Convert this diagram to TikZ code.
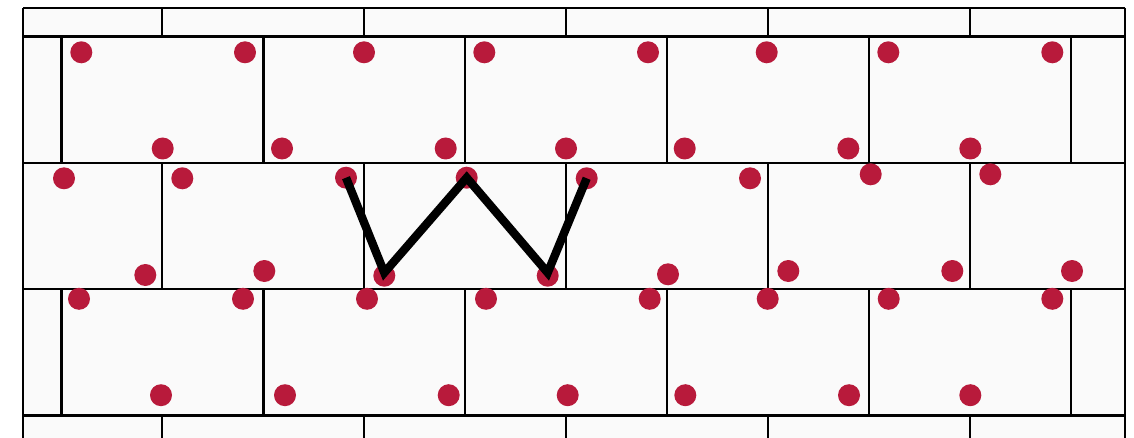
\documentclass[tikz,border=0pt]{standalone}
\usepackage{tikz}
\definecolor{brickred}{HTML}{B81A3B}
\definecolor{mortar}{HTML}{FAFAFA}

\begin{document}
\begin{tikzpicture}[
  x=0.5pt,y=-0.5pt,
  joint/.style={draw=black,line width=1.1pt},
  peg/.style={circle,fill=brickred,inner sep=0pt,minimum size=11pt},
  zigzag/.style={draw=black,line width=4.2pt,line join=miter}
]
  \useasboundingbox (0,0) rectangle (1134,438);
  \fill[white] (0,0) rectangle (1134,438);
  \fill[mortar] (23,8) rectangle (1125,438);
  % bed joints and sides
  \foreach \y in {8,36.5,162.8,289.1,415.4}
    \draw[joint] (23,\y) -- (1125,\y);
  \draw[joint] (23,8) -- (23,438);
  \draw[joint] (1125,8) -- (1125,438);
  % head joints
  \foreach \ya/\yb in {8/36.5,162.8/289.1,415.4/438}
    \foreach \k in {0,...,4}
      \draw[joint] ({162.3+201.9*\k},\ya) -- ({162.3+201.9*\k},\yb);
  \foreach \ya/\yb in {36.5/162.8,289.1/415.4}
    \foreach \k in {0,...,5}
      \draw[joint] ({61.5+201.9*\k},\ya) -- ({61.5+201.9*\k},\yb);
  % pegs, course 1
  \foreach \x [count=\i] in {81.3,245,364,484.3,648,766.7,888.3,1052.3}
    \node[peg] (t1-\i) at (\x,52.3) {};
  \foreach \x [count=\i] in {162.7,282,445.7,566,684.7,848.3,970.3}
    \node[peg] (b1-\i) at (\x,148.5) {};
  % pegs, course 2
  \foreach \x/\y [count=\i] in {64/178.3,182.3/178.3,346/177.7,466.7/177.7,586.7/178.3,750/178.3,870.7/174.3,990.3/174.3}
    \node[peg] (t2-\i) at (\x,\y) {};
  \foreach \x/\y [count=\i] in {145.3/275,264.3/271,384.3/275.7,547.7/275.7,668/274.3,788.3/271,952.3/271,1072/271}
    \node[peg] (b2-\i) at (\x,\y) {};
  % pegs, course 3
  \foreach \x [count=\i] in {79,243,367,486,649.7,767.7,888.7,1052.3}
    \node[peg] (t3-\i) at (\x,298.8) {};
  \foreach \x [count=\i] in {161,285,448.7,567.7,685.3,849,970.3}
    \node[peg] (b3-\i) at (\x,395.2) {};
  % the W
  \draw[zigzag] (t2-3.center) -- ([yshift=1.5pt]b2-3.center) -- (t2-4.center)
    -- ([yshift=1.5pt]b2-4.center) -- (t2-5.center);
\end{tikzpicture}
\end{document}
